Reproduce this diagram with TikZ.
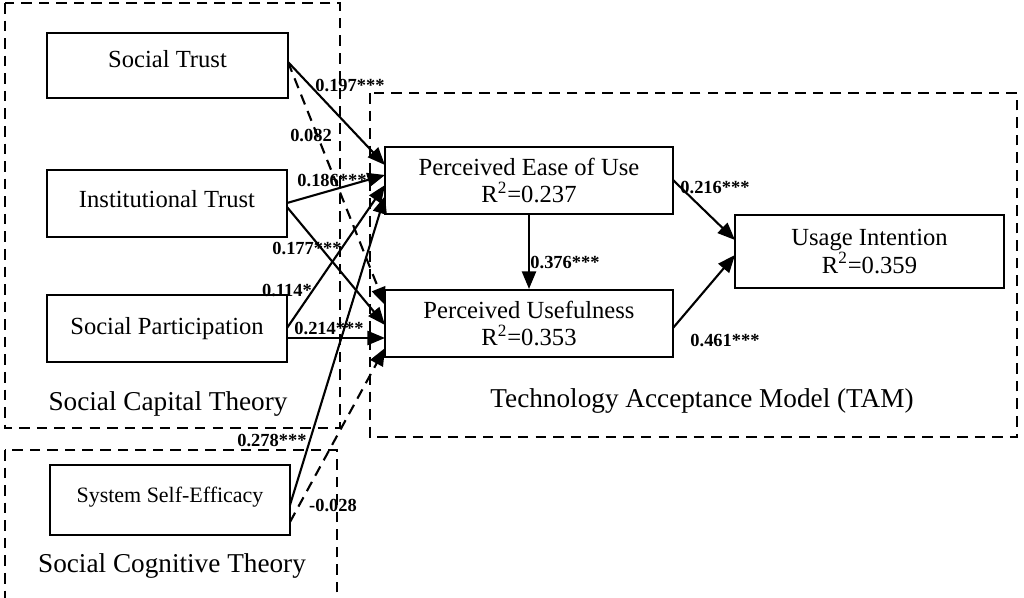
\documentclass[tikz,border=0pt]{standalone}
\usepackage{fontspec}
\setmainfont{Liberation Serif}
\usetikzlibrary{arrows.meta}
\begin{document}
\begin{tikzpicture}[x=0.02cm,y=-0.02cm,
 box/.style={draw,line width=1.2pt,inner sep=0pt,align=center,font=\fontsize{14}{15.5}\selectfont},
 frame/.style={draw,dash pattern=on 6pt off 4pt,line width=1pt},
 arr/.style={line width=1.2pt,-{Triangle[length=10pt,width=8pt]}},
 darr/.style={arr,dash pattern=on 6pt off 4pt},
 lab/.style={font=\bfseries\fontsize{10.5}{11}\selectfont,inner sep=0pt},
 th/.style={font=\fontsize{15.5}{17}\selectfont}]
\useasboundingbox (0,0) rectangle (1024,598);
\draw[frame] (5,3) rectangle (340,428);
\draw[frame] (5,450) rectangle (337,610);
\draw[frame] (370,93) rectangle (1017,437);
\node[box,minimum width=4.82cm,minimum height=1.3cm] (st) at (167.5,65.5) {\raisebox{8pt}{Social Trust}};
\node[box,minimum width=4.8cm,minimum height=1.34cm] (it) at (167,203.5) {\raisebox{5pt}{Institutional Trust}};
\node[box,minimum width=4.8cm,minimum height=1.34cm] (sp) at (167,328.5) {\raisebox{2pt}{Social Participation}};
\node[box,minimum width=4.8cm,minimum height=1.4cm,font=\fontsize{12.5}{14}\selectfont] (se) at (170,500) {\raisebox{6pt}{System Self-Efficacy}};
\node[box,minimum width=5.76cm,minimum height=1.34cm] (peou) at (529,180.5) {Perceived Ease of Use\\R\textsuperscript{2}=0.237};
\node[box,minimum width=5.76cm,minimum height=1.34cm] (pu) at (529,323.5) {Perceived Usefulness\\R\textsuperscript{2}=0.353};
\node[box,minimum width=5.38cm,minimum height=1.46cm] (ui) at (869.5,251.5) {Usage Intention\\R\textsuperscript{2}=0.359};
\node[th] at (168,404) {Social Capital Theory};
\node[th] at (172,566) {Social Cognitive Theory};
\node[th] at (702,401) {Technology Acceptance Model (TAM)};
\coordinate (a1) at (288,62); \coordinate (a2) at (287,203); \coordinate (a3) at (287,207);
\coordinate (a4) at (287,328); \coordinate (a5) at (287,338); \coordinate (a6) at (290,505);
\coordinate (a7) at (290,522);
\coordinate (p1) at (385,165); \coordinate (p2) at (385,175); \coordinate (p3) at (385,185); \coordinate (p4) at (385,196);
\coordinate (u1) at (385,305); \coordinate (u2) at (385,325); \coordinate (u3) at (385,338); \coordinate (u4) at (385,348);
\draw[arr] (a1) -- (p1);
\draw[darr] (a1) -- (u1);
\draw[arr] (a2) -- (p2);
\draw[arr] (a3) -- (u2);
\draw[arr] (a4) -- (p3);
\draw[arr] (a5) -- (u3);
\draw[arr] (a6) -- (p4);
\draw[darr] (a7) -- (u4);
\draw[arr] (peou.south) -- (pu.north);
\coordinate (e3) at (673,180); \coordinate (e4) at (735,240);
\coordinate (e5) at (673,328); \coordinate (e6) at (735,255);
\draw[arr] (e3) -- (e4);
\draw[arr] (e5) -- (e6);
\node[lab] at (350,85) {0.197***};
\node[lab] at (311,135) {0.082};
\node[lab] at (332,180) {0.186***};
\node[lab] at (307,248) {0.177***};
\node[lab] at (287,290) {0.114*};
\node[lab] at (329,328) {0.214***};
\node[lab] at (272,440) {0.278***};
\node[lab] at (333,505) {-0.028};
\node[lab] at (565,262) {0.376***};
\node[lab] at (715,187) {0.216***};
\node[lab] at (725,340) {0.461***};
\end{tikzpicture}
\end{document}
